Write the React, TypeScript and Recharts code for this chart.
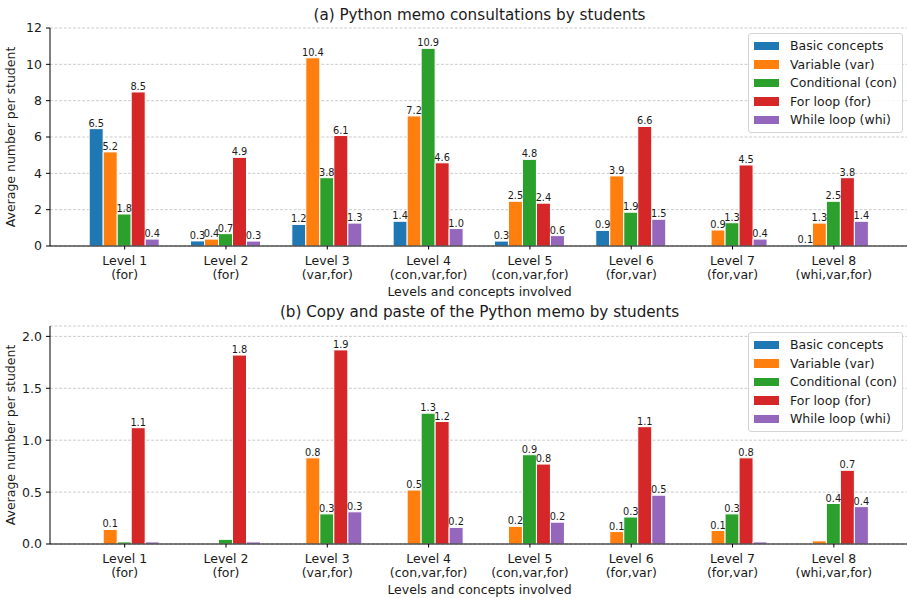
import { BarChart, Bar, XAxis, YAxis, CartesianGrid, Legend, LabelList } from 'recharts'

const levels = ['Level 1', 'Level 2', 'Level 3', 'Level 4', 'Level 5', 'Level 6', 'Level 7', 'Level 8']
const conceptTags = ['(for)', '(for)', '(var,for)', '(con,var,for)', '(con,var,for)', '(for,var)', '(for,var)', '(whi,var,for)']

const seriesNames = ['Basic concepts', 'Variable (var)', 'Conditional (con)', 'For loop (for)', 'While loop (whi)']
const seriesKeys = ['basic', 'var', 'con', 'for', 'whi']
const seriesColors = ['#1f77b4', '#ff7f0e', '#2ca02c', '#d62728', '#9467bd']

// (a) memo consultations
const basicA = [6.46, 0.28, 1.19, 1.36, 0.27, 0.86, 0, 0.06]
const varA = [5.18, 0.38, 10.36, 7.16, 2.46, 3.86, 0.88, 1.26]
const conA = [1.76, 0.68, 3.76, 10.88, 4.77, 1.86, 1.28, 2.46]
const forA = [8.48, 4.88, 6.08, 4.58, 2.36, 6.58, 4.46, 3.76]
const whiA = [0.38, 0.27, 1.26, 0.96, 0.57, 1.47, 0.38, 1.36]

// (b) copy and paste
const basicB = [0, 0, 0, 0, 0, 0, 0, 0]
const varB = [0.14, 0, 0.83, 0.52, 0.17, 0.12, 0.13, 0.03]
const conB = [0.02, 0.045, 0.29, 1.26, 0.86, 0.26, 0.29, 0.39]
const forB = [1.12, 1.82, 1.87, 1.18, 0.77, 1.13, 0.83, 0.71]
const whiB = [0.02, 0.02, 0.31, 0.16, 0.21, 0.47, 0.02, 0.36]

const ticksA = [0, 2, 4, 6, 8, 10, 12]
const ticksB = [0, 0.5, 1, 1.5, 2]

const FONT = '"DejaVu Sans", sans-serif'
const TEXT = '#1a1a1a'

const buildRows = (series: number[][]) =>
  levels.map((level, i) => {
    const row: Record<string, any> = { level }
    seriesKeys.forEach((k, s) => { row[k] = series[s][i] })
    return row
  })

const rowsA = buildRows([basicA, varA, conA, forA, whiA])
const rowsB = buildRows([basicB, varB, conB, forB, whiB])

const LevelTick = (props: any) => {
  const { x, y, payload } = props
  const idx = levels.indexOf(payload.value)
  return (
    <g transform={`translate(${x},${y})`}>
      <text textAnchor="middle" fontFamily={FONT} fontSize={12.5} fill={TEXT}>
        <tspan x={0} y={13}>{payload.value}</tspan>
        <tspan x={0} y={27.5}>{conceptTags[idx]}</tspan>
      </text>
    </g>
  )
}

// keep legend in series order (recharts sorts by name otherwise)
const renderLegend = (props: any) => {
  const items = [...(props.payload || [])].sort(
    (a: any, b: any) => seriesNames.indexOf(a.value) - seriesNames.indexOf(b.value)
  )
  return (
    <div style={{
      border: '1px solid #d4d4d4', borderRadius: 3, background: 'rgba(255,255,255,0.85)',
      padding: '2.5px 5px', fontFamily: FONT, fontSize: 12.5, color: TEXT, boxSizing: 'border-box', width: 155,
    }}>
      {items.map((p: any) => (
        <div key={p.value} style={{ display: 'flex', alignItems: 'center', height: 18.5 }}>
          <span style={{ display: 'inline-block', width: 25, height: 8.5, background: p.color, marginRight: 11 }} />
          {p.value}
        </div>
      ))}
    </div>
  )
}

const labelFmt = (v: any) => {
  const s = Number(v).toFixed(1)
  return s === '0.0' ? '' : s
}

interface PanelProps {
  rows: Record<string, any>[]
  domainMax: number
  ticks: number[]
  tickFmt: (v: number) => string
  height: number
  marginBottom: number
  legendTop: number
}

function Panel({ rows, domainMax, ticks, tickFmt, height, marginBottom, legendTop }: PanelProps) {
  return (
    <BarChart
      width={912}
      height={height}
      data={rows}
      margin={{ top: 28, right: 3, bottom: marginBottom, left: 0 }}
      barCategoryGap="15%"
      barGap={0}
    >
      <CartesianGrid vertical={false} stroke="#bdbdbd" strokeWidth={0.8} strokeDasharray="2.8 1.8" />
      <XAxis
        dataKey="level"
        interval={0}
        height={40}
        padding={{ left: 24, right: 24.5 }}
        axisLine={{ stroke: '#000', strokeWidth: 1 }}
        tickLine={{ stroke: '#000' }}
        tickSize={3.5}
        tick={<LevelTick />}
        label={(p: any) => (
          <text x={479.5} y={p.viewBox.y + 50} textAnchor="middle" fontFamily={FONT} fontSize={12.5} fill={TEXT}>
            Levels and concepts involved
          </text>
        )}
      />
      <XAxis xAxisId="top" orientation="top" dataKey="level" height={0} tick={false} tickLine={false} axisLine={{ stroke: '#000', strokeWidth: 1 }} />
      <YAxis
        width={50}
        domain={[0, domainMax]}
        ticks={ticks}
        tickFormatter={tickFmt}
        allowDataOverflow
        axisLine={{ stroke: '#000', strokeWidth: 1 }}
        tickLine={{ stroke: '#000' }}
        tickSize={4}
        tickMargin={4}
        tick={{ fontFamily: FONT, fontSize: 12.5, fill: TEXT }}
        label={(p: any) => {
          const cy = p.viewBox.y + p.viewBox.height / 2
          return (
            <text x={15} y={cy} transform={`rotate(-90, 15, ${cy})`} textAnchor="middle" fontFamily={FONT} fontSize={12.5} fill={TEXT}>
              Average number per student
            </text>
          )
        }}
      />
      <Legend
        layout="vertical"
        align="center"
        verticalAlign="middle"
        content={renderLegend}
        wrapperStyle={{ left: 748, top: legendTop, width: 155 }}
      />
      {seriesKeys.map((k, i) => (
        <Bar key={k} dataKey={k} name={seriesNames[i]} fill={seriesColors[i]} stroke="#fff" strokeWidth={1} isAnimationActive={false}>
          <LabelList dataKey={k} position="top" offset={2} formatter={labelFmt} fontFamily={FONT} fontSize={9.8} fill={TEXT} />
        </Bar>
      ))}
    </BarChart>
  )
}

const titleStyle = (top: number): React.CSSProperties => ({
  position: 'absolute', left: 50, width: 859, top, textAlign: 'center',
  fontFamily: FONT, fontSize: 15.2, lineHeight: '15.2px', color: TEXT,
})

export default function App() {
  return (
    <div style={{ position: 'absolute', left: 0, top: 0, width: 907, height: 598, overflow: 'hidden', background: '#fff' }}>
      <div style={{ position: 'absolute', left: 0, top: 0 }}>
        <Panel rows={rowsA} domainMax={12} ticks={ticksA} tickFmt={(v) => String(v)} height={298} marginBottom={12} legendTop={33} />
      </div>
      <div style={{ position: 'absolute', left: 0, top: 298 }}>
        <Panel rows={rowsB} domainMax={2.1} ticks={ticksB} tickFmt={(v) => v.toFixed(1)} height={300} marginBottom={14} legendTop={34} />
      </div>
      <div style={titleStyle(8)}>(a) Python memo consultations by students</div>
      <div style={titleStyle(305)}>(b) Copy and paste of the Python memo by students</div>
    </div>
  )
}
